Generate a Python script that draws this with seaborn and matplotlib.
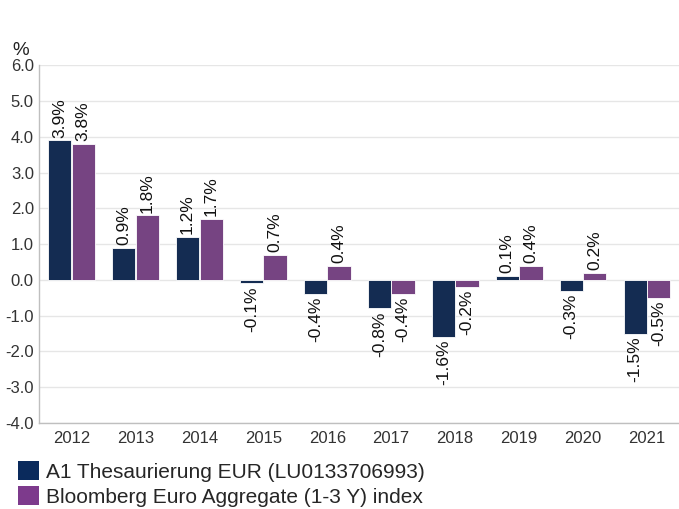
import numpy as np
import pandas as pd
import matplotlib
matplotlib.use("Agg")
import matplotlib.pyplot as plt
import seaborn as sns

# data
years = ["2012", "2013", "2014", "2015", "2016", "2017", "2018", "2019", "2020", "2021"]
fund_values = [3.9, 0.9, 1.2, -0.1, -0.4, -0.8, -1.6, 0.1, -0.3, -1.5]
index_values = [3.8, 1.8, 1.7, 0.7, 0.4, -0.4, -0.2, 0.4, 0.2, -0.5]
series_names = ["A1 Thesaurierung EUR (LU0133706993)",
                "Bloomberg Euro Aggregate (1-3 Y) index"]
colors = ["#0a2a5c", "#7d3a8c"]

df = pd.DataFrame({
    "year": years * 2,
    "value": fund_values + index_values,
    "series": [series_names[0]] * len(years) + [series_names[1]] * len(years),
})

sns.set_style("white")
plt.rcParams["font.family"] = ["Liberation Sans", "DejaVu Sans"]

fig = plt.figure(figsize=(6.79, 5.09), dpi=100)
ax = fig.add_axes([0.058, 0.169, 0.942, 0.703])

sns.barplot(data=df, x="year", y="value", hue="series", palette=colors,
            width=0.74, gap=0.02, ax=ax, edgecolor="white", linewidth=0.6,
            legend=False, errorbar=None)

ax.set_ylim(-4, 6)
ax.set_yticks(np.arange(-4, 7, 1))
ax.set_yticklabels([f"{v:.1f}" for v in np.arange(-4, 7, 1)])
ax.set_xlim(-0.5, len(years) - 0.5)
ax.grid(axis="y", color="#e6e6e6", linewidth=1)
ax.set_axisbelow(True)
ax.set_xlabel("")
ax.set_ylabel("")
for side in ["top", "right"]:
    ax.spines[side].set_visible(False)
for side in ["left", "bottom"]:
    ax.spines[side].set_color("#bfbfbf")
    ax.spines[side].set_linewidth(1)
ax.tick_params(axis="both", labelsize=12, colors="#333333", length=0, pad=6)
ax.tick_params(axis="y", pad=4)

# value labels, rotated
for cont in ax.containers:
    for bar in cont:
        h = bar.get_height()
        xc = bar.get_x() + bar.get_width() / 2
        if h >= 0:
            ax.annotate(f"{h:.1f}%", (xc, h), xytext=(0, 2), textcoords="offset points",
                        rotation=90, ha="center", va="bottom", fontsize=12.5, color="#111111")
        else:
            ax.annotate(f"{h:.1f}%", (xc, h), xytext=(0, -2), textcoords="offset points",
                        rotation=90, ha="center", va="top", fontsize=12.5, color="#111111")

fig.text(0.018, 0.892, "%", fontsize=13.5, color="#222222")

handles = [plt.Rectangle((0, 0), 1, 1, facecolor=c, edgecolor="none") for c in colors]
fig.legend(handles, series_names, loc="lower left", bbox_to_anchor=(0.014, -0.012),
           frameon=False, fontsize=15, handlelength=1.0, handleheight=1.0,
           handletextpad=0.35, labelspacing=0.22, borderaxespad=0)

fig.savefig("out.png", dpi=100)
